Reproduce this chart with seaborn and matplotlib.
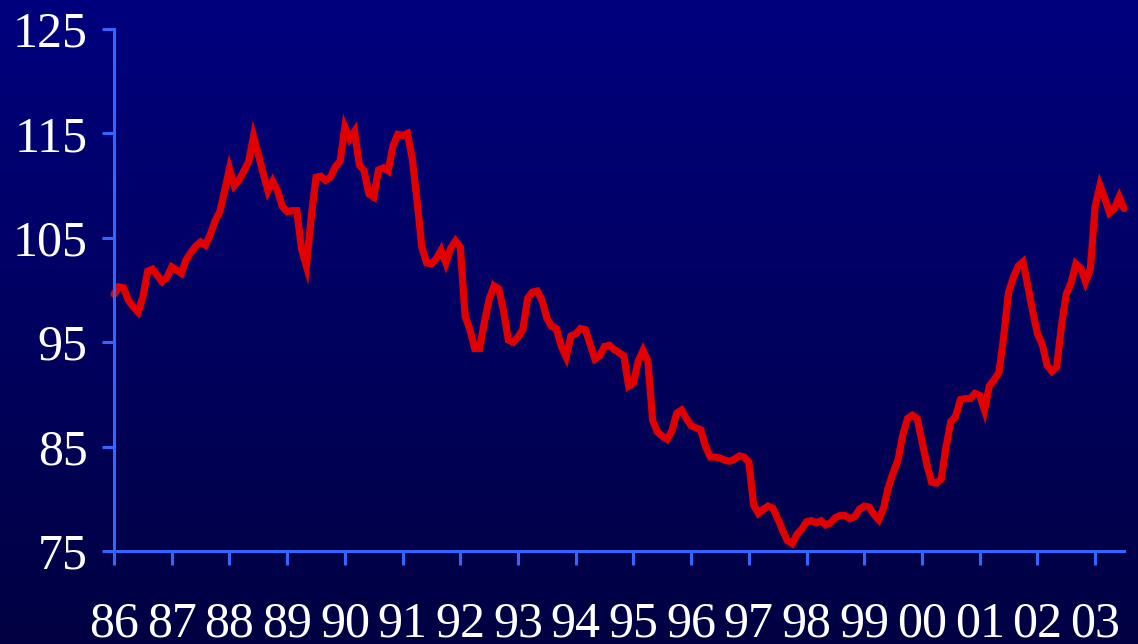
import numpy as np
import pandas as pd
import matplotlib
matplotlib.use("Agg")
import matplotlib.pyplot as plt
import seaborn as sns

# Monthly index values, January 1986 onwards
index_values = [
    99.6, 100.3, 100.2, 99.0, 98.4, 97.9, 99.3, 101.8, 102.0, 101.4, 100.8, 101.2,   # 1986
    102.2, 101.9, 101.6, 102.9, 103.6, 104.2, 104.6, 104.3, 105.3, 106.6, 107.5, 109.5,  # 1987
    111.6, 110.0, 110.5, 111.4, 112.3, 114.7, 113.0, 111.2, 109.5, 110.4, 109.5, 108.0,  # 1988
    107.5, 107.6, 107.6, 103.9, 102.3, 107.0, 110.8, 110.9, 110.5, 110.8, 111.8, 112.3,  # 1989
    115.6, 114.5, 115.2, 112.0, 111.4, 109.2, 108.9, 111.5, 111.7, 111.4, 113.8, 114.9,  # 1990
    114.8, 115.0, 112.6, 108.6, 104.1, 102.6, 102.5, 103.0, 103.8, 102.6, 104.0, 104.7,  # 1991
    104.1, 97.5, 96.2, 94.4, 94.4, 96.9, 99.1, 100.4, 100.1, 98.0, 95.2, 95.0,          # 1992
    95.5, 96.2, 99.2, 99.8, 99.9, 99.0, 97.3, 96.5, 96.3, 94.6, 93.6, 95.6,             # 1993
    95.8, 96.3, 96.2, 94.8, 93.4, 93.7, 94.6, 94.7, 94.3, 94.0, 93.7, 90.8,             # 1994
    91.1, 93.2, 94.2, 93.2, 87.5, 86.4, 86.0, 85.7, 86.5, 88.2, 88.5, 87.7,             # 1995
    87.0, 86.8, 86.6, 85.0, 84.0, 84.0, 83.9, 83.7, 83.6, 83.8, 84.1, 84.0,             # 1996
    83.5, 79.4, 78.6, 79.0, 79.3, 79.1, 78.1, 77.0, 76.0, 75.7, 76.6, 77.1,             # 1997
    77.8, 77.9, 77.7, 77.9, 77.5, 77.7, 78.2, 78.4, 78.4, 78.1, 78.3, 79.0,             # 1998
    79.3, 79.2, 78.5, 78.0, 79.1, 81.1, 82.5, 83.7, 86.1, 87.7, 88.0, 87.7,             # 1999
    85.5, 83.3, 81.6, 81.5, 81.9, 85.0, 87.4, 87.9, 89.5, 89.6, 89.6, 90.1,             # 2000
    89.9, 88.5, 90.8, 91.4, 92.1, 95.6, 99.8, 101.2, 102.3, 102.7, 100.4, 98.0,         # 2001
    95.8, 94.8, 92.8, 92.2, 92.6, 96.6, 99.6, 100.7, 102.5, 102.1, 100.8, 102.0,        # 2002
    108.0, 110.0, 108.8, 107.4, 107.8, 108.9, 107.8,                                    # 2003
]
year_labels = ["86", "87", "88", "89", "90", "91", "92", "93", "94", "95",
               "96", "97", "98", "99", "00", "01", "02", "03"]
y_ticks = [75, 85, 95, 105, 115, 125]

df = pd.DataFrame({"month": np.arange(len(index_values)), "value": index_values})

sns.set_theme(style="white")
plt.rcParams["font.family"] = ["Liberation Serif", "DejaVu Serif"]

axis_blue = "#3366FF"
line_red = "#E00000"

fig = plt.figure(figsize=(11.38, 6.44), dpi=100)

# Vertical navy gradient behind everything
bg = fig.add_axes([0, 0, 1, 1], zorder=0)
grad = np.linspace(0, 1, 256).reshape(-1, 1)
cmap = matplotlib.colors.LinearSegmentedColormap.from_list("navy", ["#00007E", "#000042"])
bg.imshow(grad, aspect="auto", cmap=cmap, extent=[0, 1, 0, 1], origin="upper")
bg.set_axis_off()

ax = fig.add_axes([0.1002, 0.1444, 0.8875, 0.8106], zorder=1)
ax.patch.set_alpha(0)

sns.lineplot(data=df, x="month", y="value", ax=ax, color=line_red,
             linewidth=5.2, solid_joinstyle="miter", clip_on=False)

ax.set_xlim(0, len(index_values) - 1)
ax.set_ylim(75, 125)
ax.set_xticks(np.arange(len(year_labels)) * 12)
ax.set_xticklabels(year_labels)
ax.set_yticks(y_ticks)
ax.set_yticklabels([str(t) for t in y_ticks])
ax.set_xlabel("")
ax.set_ylabel("")

for side in ["top", "right"]:
    ax.spines[side].set_visible(False)
for side in ["left", "bottom"]:
    ax.spines[side].set_color(axis_blue)
    ax.spines[side].set_linewidth(2.2)

ax.tick_params(axis="y", direction="out", length=9, width=2.2, color=axis_blue,
               labelcolor="white", labelsize=36, pad=10, left=True)
ax.tick_params(axis="x", direction="out", length=10, width=2.2, color=axis_blue,
               labelcolor="white", labelsize=36, pad=26, bottom=True)
ax.grid(False)

fig.savefig("out.png", dpi=100)
